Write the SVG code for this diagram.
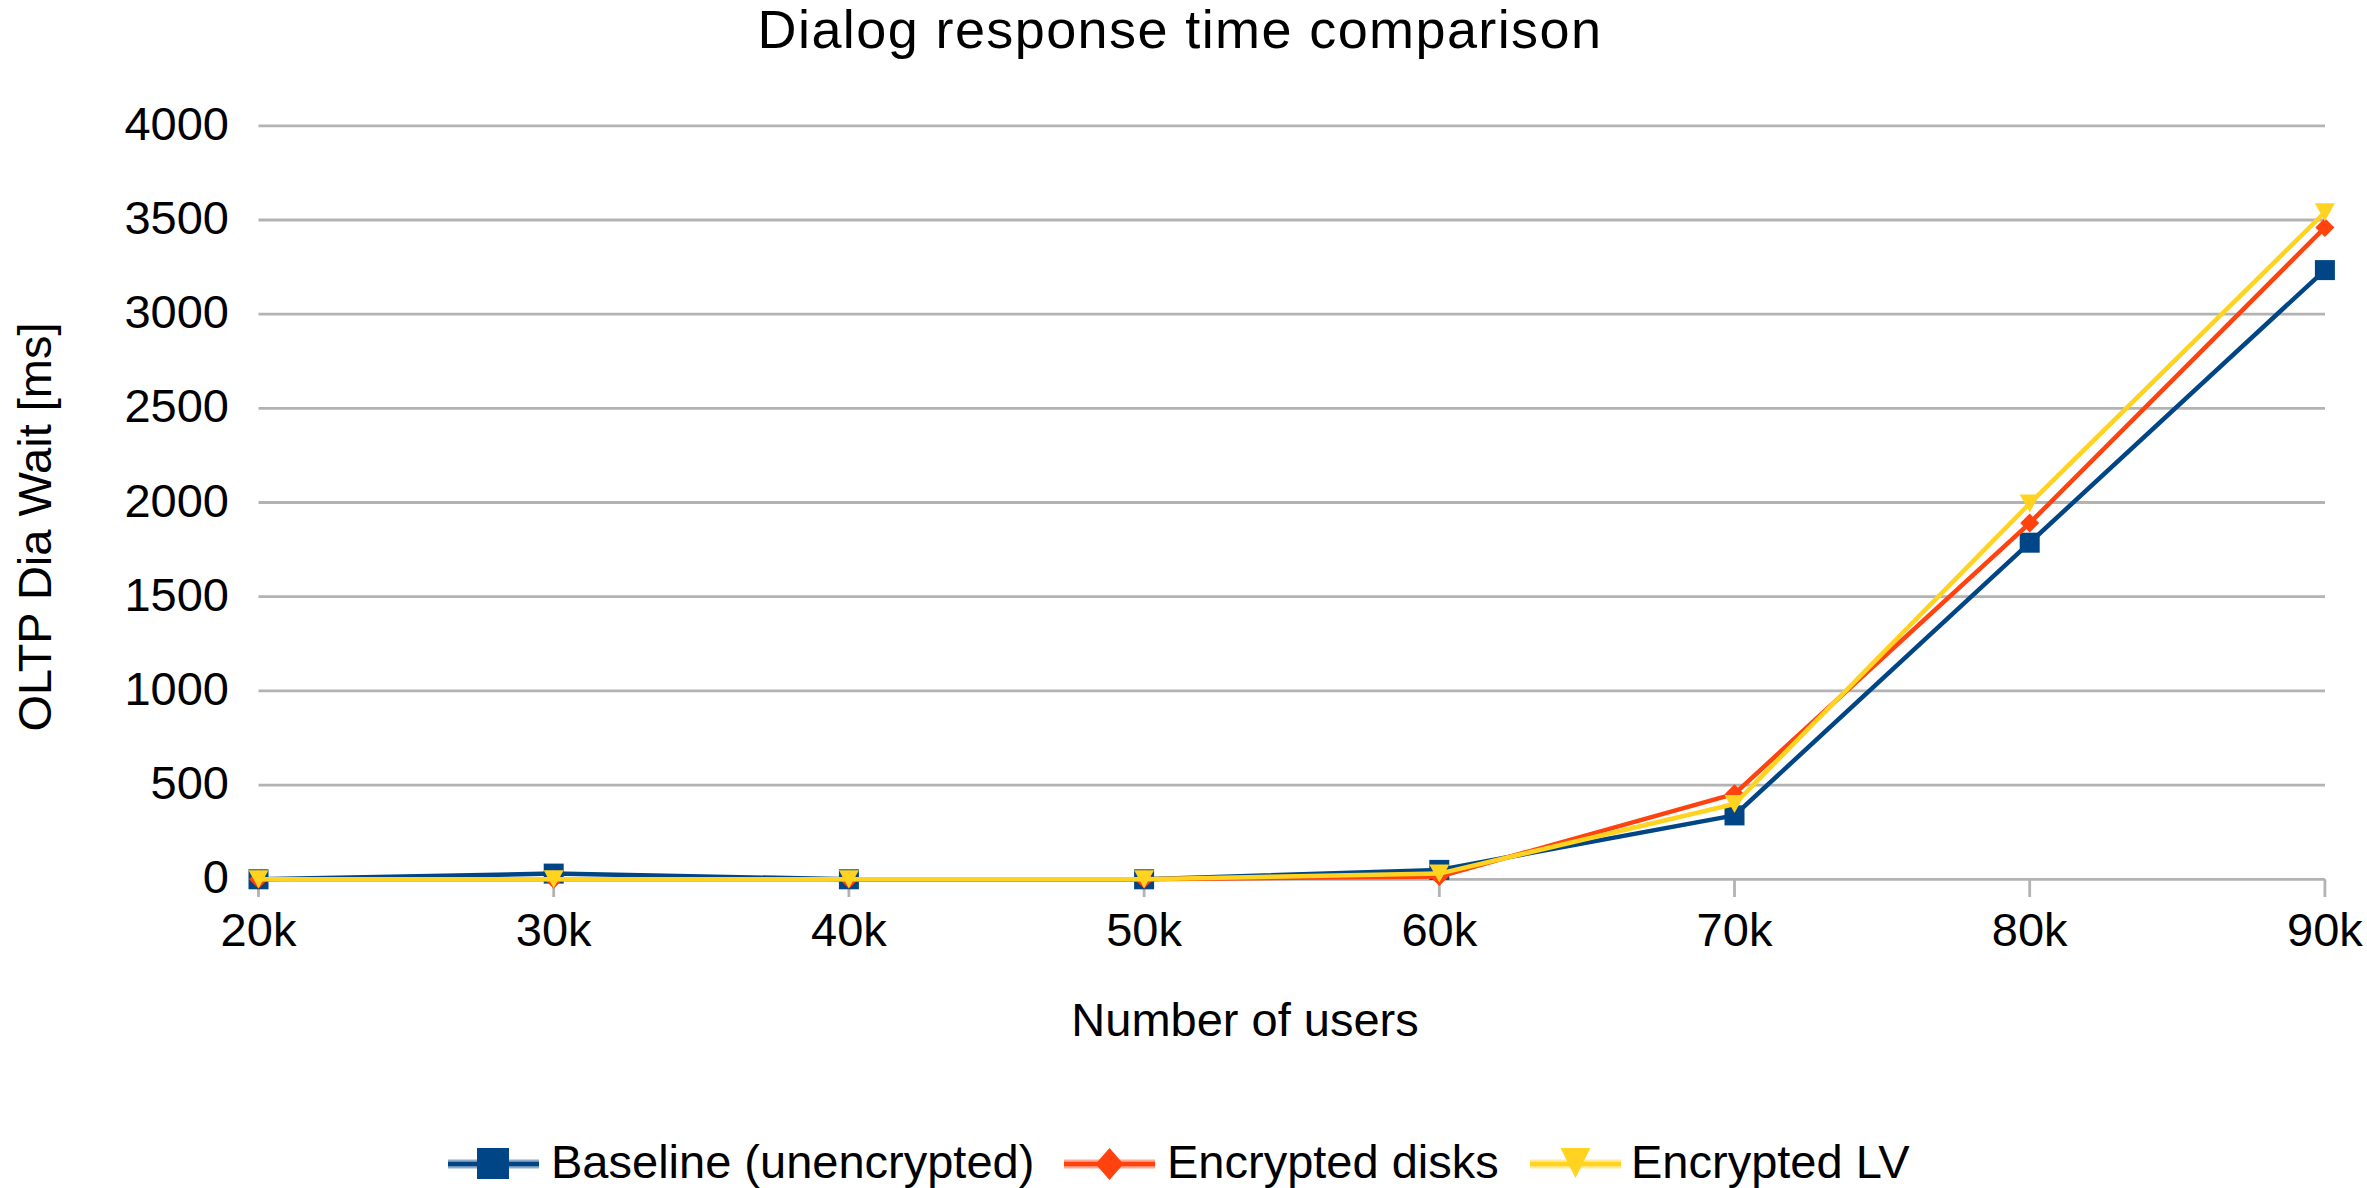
<svg xmlns="http://www.w3.org/2000/svg" xmlns:xlink="http://www.w3.org/1999/xlink" width="2367" height="1188" viewBox="0 0 2367 1188">
  <style>
    text { font-family: "Liberation Sans", Arial, sans-serif; fill: #000000; }
    .title { font-size: 54px; letter-spacing: 1.4px; }
    .axis-title { font-size: 47px; }
    .tick-label { font-size: 47px; }
    .legend-label { font-size: 47px; }
    .grid { stroke: #b3b3b3; stroke-width: 2.8; fill: none; }
    .series { fill: none; stroke-width: 4.5; stroke-linejoin: round; }
    .blue { stroke: #004586; }
    .red { stroke: #ff420e; }
    .yellow { stroke: #ffd320; }
    .leg-halo { stroke-width: 9; stroke-opacity: 0.45; }
    .leg-core { stroke-width: 4.5; }
  </style>
  <defs>
    <marker id="m-square" markerUnits="userSpaceOnUse" markerWidth="20" markerHeight="20" refX="10" refY="10" overflow="visible">
      <rect x="0" y="0" width="20" height="20" fill="#004586"/>
    </marker>
    <marker id="m-diamond" markerUnits="userSpaceOnUse" markerWidth="20" markerHeight="20" refX="10" refY="10" overflow="visible">
      <path d="M10,0.5 L19.5,10 L10,19.5 L0.5,10 Z" fill="#ff420e"/>
    </marker>
    <marker id="m-tri" markerUnits="userSpaceOnUse" markerWidth="20" markerHeight="18" refX="10" refY="9" overflow="visible">
      <path d="M0,0 H20 L10,18 Z" fill="#ffd320"/>
    </marker>
  </defs>

  <rect x="0" y="0" width="2367" height="1188" fill="#ffffff"/>

  <!-- chart title -->
  <g id="title">
    <text class="title" x="1180" y="48" text-anchor="middle">Dialog response time comparison</text>
  </g>

  <!-- horizontal grid lines and category ticks -->
  <g id="grid">
    <line class="grid" x1="258.5" y1="125.8" x2="2325" y2="125.8"/>
    <line class="grid" x1="258.5" y1="220.0" x2="2325" y2="220.0"/>
    <line class="grid" x1="258.5" y1="314.2" x2="2325" y2="314.2"/>
    <line class="grid" x1="258.5" y1="408.3" x2="2325" y2="408.3"/>
    <line class="grid" x1="258.5" y1="502.5" x2="2325" y2="502.5"/>
    <line class="grid" x1="258.5" y1="596.7" x2="2325" y2="596.7"/>
    <line class="grid" x1="258.5" y1="690.9" x2="2325" y2="690.9"/>
    <line class="grid" x1="258.5" y1="785.1" x2="2325" y2="785.1"/>
    <line class="grid" x1="258.5" y1="879.3" x2="2325" y2="879.3"/>
    <path class="grid" d="M258.5,879.3 V897 M553.7,879.3 V897 M848.9,879.3 V897 M1144.1,879.3 V897 M1439.3,879.3 V897 M1734.5,879.3 V897 M2029.7,879.3 V897 M2324.9,879.3 V897"/>
  </g>

  <!-- value axis -->
  <g id="y-axis">
    <text class="tick-label" x="229" y="139.8" text-anchor="end">4000</text>
    <text class="tick-label" x="229" y="234.0" text-anchor="end">3500</text>
    <text class="tick-label" x="229" y="328.2" text-anchor="end">3000</text>
    <text class="tick-label" x="229" y="422.3" text-anchor="end">2500</text>
    <text class="tick-label" x="229" y="516.5" text-anchor="end">2000</text>
    <text class="tick-label" x="229" y="610.7" text-anchor="end">1500</text>
    <text class="tick-label" x="229" y="704.9" text-anchor="end">1000</text>
    <text class="tick-label" x="229" y="799.1" text-anchor="end">500</text>
    <text class="tick-label" x="229" y="893.3" text-anchor="end">0</text>
    <text class="axis-title" transform="translate(51,527) rotate(-90)" text-anchor="middle">OLTP Dia Wait [ms]</text>
  </g>

  <!-- category axis -->
  <g id="x-axis">
    <text class="tick-label" x="258.5" y="946" text-anchor="middle">20k</text>
    <text class="tick-label" x="553.7" y="946" text-anchor="middle">30k</text>
    <text class="tick-label" x="848.9" y="946" text-anchor="middle">40k</text>
    <text class="tick-label" x="1144.1" y="946" text-anchor="middle">50k</text>
    <text class="tick-label" x="1439.3" y="946" text-anchor="middle">60k</text>
    <text class="tick-label" x="1734.5" y="946" text-anchor="middle">70k</text>
    <text class="tick-label" x="2029.7" y="946" text-anchor="middle">80k</text>
    <text class="tick-label" x="2324.9" y="946" text-anchor="middle">90k</text>
    <text class="axis-title" x="1245" y="1036" text-anchor="middle">Number of users</text>
  </g>

  <!-- data series -->
  <g id="series">
    <polyline id="series-baseline" class="series blue" marker-start="url(#m-square)" marker-mid="url(#m-square)" marker-end="url(#m-square)"
      points="258.5,879.3 553.7,873.6 848.9,879.3 1144.1,879.3 1439.3,869.9 1734.5,815.4 2029.7,542.7 2324.9,270.1"/>
    <polyline id="series-disks" class="series red" marker-start="url(#m-diamond)" marker-mid="url(#m-diamond)" marker-end="url(#m-diamond)"
      points="258.5,879.3 553.7,879.3 848.9,879.3 1144.1,879.3 1439.3,876.5 1734.5,793.8 2029.7,523.1 2324.9,227.5"/>
    <polyline id="series-lv" class="series yellow" marker-start="url(#m-tri)" marker-mid="url(#m-tri)" marker-end="url(#m-tri)"
      points="258.5,879.3 553.7,879.3 848.9,879.3 1144.1,879.3 1439.3,873.6 1734.5,804.0 2029.7,503.5 2324.9,212.3"/>
  </g>

  <!-- legend -->
  <g id="legend">
    <g id="legend-baseline">
      <line class="blue leg-halo" x1="448" y1="1164" x2="539" y2="1164"/>
      <line class="blue leg-core" x1="448" y1="1164" x2="539" y2="1164"/>
      <rect x="477" y="1148" width="32" height="31" fill="#004586"/>
      <text class="legend-label" x="551" y="1178">Baseline (unencrypted)</text>
    </g>
    <g id="legend-disks">
      <line class="red leg-halo" x1="1064" y1="1164" x2="1155" y2="1164"/>
      <line class="red leg-core" x1="1064" y1="1164" x2="1155" y2="1164"/>
      <path d="M1109.5,1148 L1123.5,1164 L1109.5,1180 L1095.5,1164 Z" fill="#ff420e"/>
      <text class="legend-label" x="1167" y="1178">Encrypted disks</text>
    </g>
    <g id="legend-lv">
      <line class="yellow leg-halo" x1="1530" y1="1164" x2="1621" y2="1164"/>
      <line class="yellow leg-core" x1="1530" y1="1164" x2="1621" y2="1164"/>
      <path d="M1560.5,1148 H1590.5 L1575.5,1178 Z" fill="#ffd320"/>
      <text class="legend-label" x="1631" y="1178">Encrypted LV</text>
    </g>
  </g>
</svg>
